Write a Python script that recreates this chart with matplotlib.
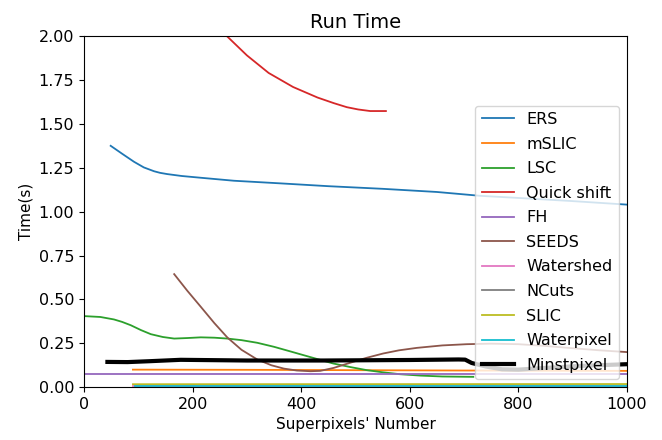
import numpy as np
import matplotlib
matplotlib.use('Agg')
import matplotlib.pyplot as plt

plt.rcParams['font.size'] = 11.5

# 各方法的運行時間
ers_x = [49, 70, 92, 110, 129, 140, 153, 180, 215, 276, 362, 450, 550, 650, 730, 800, 900, 1000]
ers_y = [1.375, 1.33, 1.284, 1.252, 1.23, 1.221, 1.214, 1.203, 1.193, 1.176, 1.161, 1.145, 1.13, 1.112, 1.09, 1.078, 1.06, 1.04]

mslic_x = [90, 300, 500, 700, 1000]
mslic_y = [0.1, 0.099, 0.097, 0.095, 0.093]

lsc_x = [0, 30, 55, 70, 86, 105, 123, 145, 166, 190, 215, 240, 264, 290, 319, 350,
         381, 398, 430, 459, 490, 521, 550, 582, 620, 660, 717]
lsc_y = [0.405, 0.4, 0.386, 0.372, 0.353, 0.325, 0.302, 0.286, 0.277, 0.28, 0.284, 0.282, 0.277, 0.268, 0.253, 0.23,
         0.203, 0.188, 0.16, 0.135, 0.115, 0.097, 0.085, 0.074, 0.066, 0.061, 0.059]

qs_x = [200, 235, 263, 300, 340, 385, 430, 460, 484, 505, 527, 556]
qs_y = [2.2, 2.09, 2.0, 1.89, 1.79, 1.71, 1.65, 1.618, 1.595, 1.582, 1.573, 1.573]

fh_x = [0, 1000]
fh_y = [0.078, 0.078]

seeds_x = [166, 190, 215, 240, 264, 290, 319, 345, 368, 392, 417, 435, 460, 490, 520, 551,
           580, 613, 660, 705, 750, 800, 850, 900, 950, 1000]
seeds_y = [0.644, 0.55, 0.458, 0.365, 0.283, 0.213, 0.158, 0.125, 0.106, 0.095, 0.091, 0.093, 0.11, 0.139, 0.167, 0.192,
           0.21, 0.224, 0.238, 0.245, 0.248, 0.245, 0.235, 0.222, 0.21, 0.2]

watershed_x = [90, 1000]
watershed_y = [0.004, 0.004]

ncuts_x = [100, 1000]
ncuts_y = [5.0, 9.0]

slic_x = [90, 1000]
slic_y = [0.017, 0.018]

wp_x = [94, 1000]
wp_y = [0.008, 0.008]

minst_x = [43, 80, 120, 178, 300, 442, 600, 690, 702, 714, 740, 770, 800, 850, 920, 1000]
minst_y = [0.144, 0.143, 0.148, 0.156, 0.152, 0.152, 0.155, 0.158, 0.157, 0.138, 0.118, 0.102, 0.1, 0.11, 0.122, 0.131]

plt.figure(figsize=(6.62, 4.4))
ax = plt.axes([0.127, 0.12, 0.82, 0.798])

ax.plot(ers_x, ers_y, label='ERS', lw=1.3)
ax.plot(mslic_x, mslic_y, label='mSLIC', lw=1.3)
ax.plot(lsc_x, lsc_y, label='LSC', lw=1.3)
ax.plot(qs_x, qs_y, label='Quick shift', lw=1.3)
ax.plot(fh_x, fh_y, label='FH', lw=1.3)
ax.plot(seeds_x, seeds_y, label='SEEDS', lw=1.3)
ax.plot(watershed_x, watershed_y, label='Watershed', lw=1.3)
ax.plot(ncuts_x, ncuts_y, label='NCuts', lw=1.3)
ax.plot(slic_x, slic_y, label='SLIC', lw=1.3)
ax.plot(wp_x, wp_y, label='Waterpixel', lw=1.3)
ax.plot(minst_x, minst_y, label='Minstpixel', color='black', lw=3)

ax.set_xlim(0, 1000)
ax.set_ylim(0, 2.0)
ax.set_title('Run Time', fontsize=14)
ax.set_xlabel("Superpixels' Number", fontsize=11)
ax.set_ylabel('Time(s)', fontsize=11)
ax.legend(loc='lower right', fontsize=11.5, labelspacing=0.6)

plt.savefig('out.png', dpi=100)
